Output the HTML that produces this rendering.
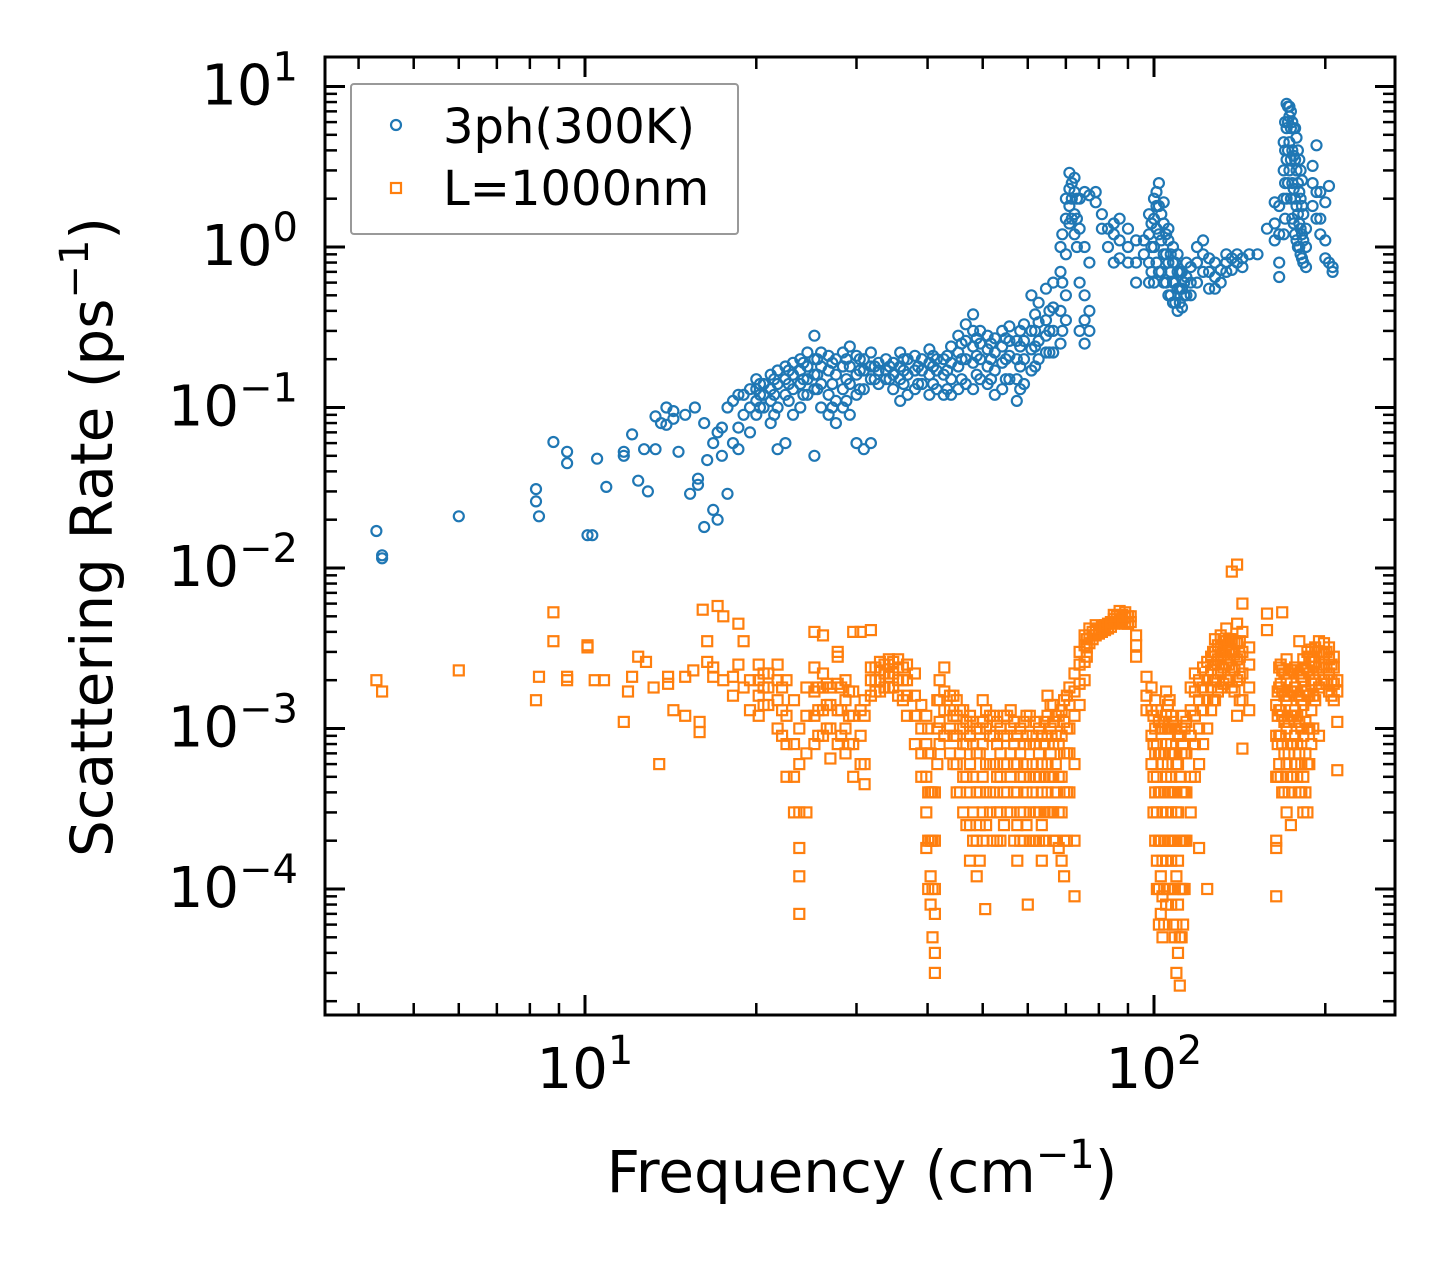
<!DOCTYPE html>
<html><head><meta charset="utf-8"><style>
html,body{margin:0;padding:0;background:#fff}
svg{display:block;font-family:"DejaVu Sans","Liberation Sans",sans-serif}
</style></head><body>
<svg id="chart" width="1455" height="1265" viewBox="0 0 1455 1265" xmlns="http://www.w3.org/2000/svg">
<rect x="0" y="0" width="1455" height="1265" fill="#fff"/>
<g id="marks"></g>
<g id="axes"></g>
<rect x="325" y="57" width="1070" height="958" fill="none" stroke="#000" stroke-width="3"/>
<g>
<rect x="351" y="84" width="387" height="150" rx="3" fill="#fff" fill-opacity="0.85" stroke="#999" stroke-width="2"/>
<circle cx="396" cy="125" r="5" fill="none" stroke="#1f77b4" stroke-width="2.2"/>
<text x="443" y="143" font-size="48">3ph(300K)</text>
<rect x="391" y="183" width="10" height="10" fill="none" stroke="#ff7f0e" stroke-width="2.2"/>
<text x="443" y="205" font-size="48">L=1000nm</text>
</g>
<text x="862" y="1192" font-size="58" text-anchor="middle">Frequency (cm<tspan font-size="40" dy="-24">−1</tspan><tspan dy="24">)</tspan></text>
<text transform="translate(112,537) rotate(-90)" font-size="58" text-anchor="middle">Scattering Rate (ps<tspan font-size="40" dy="-24">−1</tspan><tspan dy="24">)</tspan></text>
</svg>
<script>
const xTickExps=[1,2];
const yTickExps=[1,0,-1,-2,-3,-4];
const xMinorTicks=[4,5,6,7,8,9,20,30,40,50,60,70,80,90,200];
const blueFreq=[4.3,4.4,6,8.2,8.3,8.8,9.3,10.1,10.3,10.5,10.9,11.7,12.1,12.4,12.7,12.9,13.3,13.6,13.9,14.3,14.6,15,15.3,15.6,15.8,16.2,16.4,16.8,17.1,17.4,17.8,18.2,18.6,19,19.5,
20,20.6,21.2,21.8,22.5,23.2,23.9,24.6,25.3,26,26.8,27.6,28.4,29.2,30,30.9,31.8,32.8,33.8,34.8,35.8,36.9,38,39.1,40.3,41.5,42.7,44,45.3,46.7,48.1,49.5,51,52.5,54.1,55.7,57.4,59.1,60.9,62.7,64.6,66.5,68.5,70,71,72.5,74,75.5,77,79,81,83,85,87,90,93,96,98,100,102,104,106,108,110,112,114,116,119,122,125,128,131,134,137,140,143,147,152,158,163,166,169,171,173,175,177,179,181,183,185,190,193,196,200,203,206];
const blueRate=[[.017],[.012,.0115],[.021],[.031,.026],[.021],[.061],[.053,.045],[.016],[.016],[.048],[.032],[.053,.05],[.068],[.035],[.055],[.03],[.088,.055],[.08],[.1,.078],[.085,.095],[.053],[.09],[.029],[.1],[.036,.033],[.018,.08],[.047],[.023,.06],[.02,.07],[.075,.05],[.029,.1],[.11,.06],[.075,.12,.055],[.12,.09],[.13,.1,.07],
[.09,.11,.13,.15],[.1,.12,.14],[.08,.11,.13,.16],[.055,.1,.14,.17],[.06,.12,.15,.18],[.09,.13,.16,.19],[.1,.14,.17,.2],[.12,.15,.18,.22],[.05,.13,.16,.28,.2],[.1,.14,.18,.22],[.09,.12,.17,.21],[.08,.11,.16,.2],[.1,.13,.18,.22],[.09,.14,.18,.24],[.06,.12,.16,.21],[.055,.13,.17,.2],[.06,.15,.18,.22],[.14,.17,.19],[.15,.17,.2],[.13,.16,.19],[.11,.15,.18,.22],[.12,.16,.2],[.13,.17,.21],[.14,.17,.2],[.12,.16,.19,.23],[.13,.17,.2],[.12,.16,.2],[.12,.15,.19,.24],[.13,.18,.22,.28],[.14,.2,.26,.33],[.13,.19,.24,.38,.3],[.15,.2,.25,.3],[.14,.18,.23,.28],[.12,.17,.22,.27],[.13,.19,.24,.3],[.15,.21,.26,.32],[.11,.15,.2,.26],[.14,.2,.26,.33],[.17,.23,.3,.5],[.2,.26,.34,.45],[.22,.28,.35,.55],[.22,.3,.42,.6],[.25,.4,.7,1.0],[.35,.5,.9,1.5,2.0],[1.4,1.8,2.3,2.9],[1.2,1.6,2.2,2.7],[.3,.6,1.3,2.0],[.25,.35,.5,1.0,2.2],[.3,.4,.8,2.1],[1.9,2.2],[1.3,1.6],[1.0,1.3],[.8,1.2,1.4],[.85,1.1,1.5],[.8,1.0,1.3],[.6,.8,1.1],[.9,1.1],[.6,.8,1.2,1.6],[.6,1.0,1.5,2.0],[.7,1.2,1.8,2.5],[.6,.9,1.4,1.9],[.5,.8,1.1,1.3],[.45,.6,.8,1.0],[.4,.55,.7,.9],[.42,.55,.7],[.5,.65,.8],[.5,.6,.75],[.6,.8,1.0],[.7,.9,1.1],[.55,.7,.85],[.55,.65,.8],[.6,.72],[.7,.8,.9],[.72,.85],[.8,.9],[.75,.85],[.9],[.9],[1.3],[1.1,1.4,1.9],[.65,.8,1.2,1.8],[1.2,2.0,3.0,4.5],[2.0,3.5,5.5,7.8],[3.0,4.5,6.5,7.5],[1.5,2.5,4.0,6.0],[1.2,2.0,3.5,5.5],[1.0,1.6,2.5,4.0],[.9,1.3,2.0,3.0],[.8,1.1,1.6],[.75,1.0,1.3],[1.8,2.5,3.2],[1.5,2.2,4.3],[1.2,1.5,2.2],[.85,1.1,1.9],[.8,2.4],[.7,.75]];
const blueFreqExtra=[20.3,21.5,22.8,24.2,25.6,27.2,28.8,30.4,32.3,34.3,36.3,38.5,40.9,43.3,45.9,48.8,51.7,54.9,58.2,61.8,65.5,69,71.7,73.2,99,101,103,105,107,109,111,113,170,172,174,176,178,180,182];
const blueRateExtra=[[.1,.12,.14],[.09,.12,.15],[.11,.14,.17],[.12,.15,.19],[.13,.16,.2],[.1,.14,.19],[.11,.15,.2],[.13,.17,.2],[.15,.18],[.15,.18],[.14,.17,.2],[.14,.18],[.14,.18,.21],[.13,.17,.21],[.15,.2,.25],[.16,.21,.27],[.15,.2,.25],[.15,.2,.27],[.13,.18,.24,.3],[.18,.24,.3,.38],[.22,.3,.4],[.3,.6,1.2],[1.5,2.0,2.5],[1.0,1.5,2.0],[.7,1.0,1.4],[.8,1.3,1.8,2.2],[.7,1.1,1.6],[.6,.9,1.2],[.5,.7,.9],[.45,.6,.8],[.45,.55,.7],[.5,.6],[1.5,2.5,4,6],[2.5,4,6,7.5],[2,3.5,5.5,7],[1.4,2.3,3.7,5.5],[1.1,1.8,3,4.8],[1,1.4,2.2,3.5],[.85,1.2,1.8,2.6]];
const orangeFreq=[4.3,4.4,6,8.2,8.3,8.8,9.3,10.1,10.4,10.8,11.7,11.9,12.1,12.4,12.8,13.2,13.5,14,14.3,15,15.5,15.9,16.1,16.4,16.8,17.1,17.5,18.2,18.6,19,19.5,
20.2,21,21.8,22.6,23.3,23.8,24.5,25.3,26.2,27,27.8,28.7,29.6,30.5,31,31.8,33,34.2,35.5,36.8,38,39,39.8,40.5,41.2,42,42.8,43.8,45,46.2,47.5,48.8,50,50.5,51.5,53,54.5,56,57.5,59,60,60.5,62,63.5,65,66.5,68,69.5,71,72.5,74,75.5,77,79,81,83,85,87,89,91,93,97,99,100.5,102,103.5,105,106.5,108,109.5,111,112.5,114,116,118,120,122,124,126,128,131,134,137,140,143,147,158,164,166,168,171,174,177,180,183,186,189,192,195,199,203,207,210];
const orangeRate=[[.002],[.0017],[.0023],[.0015],[.0021],[.0035,.0053],[.002,.0021],[.0033,.0032],[.002],[.002],[.0011],[.0017],[.0021],[.0028],[.0026],[.0018],[.0006],[.0021,.0019],[.0013],[.0012,.0021],[.0023],[.00095,.0011],[.0055],[.0035,.0026],[.0024,.0021],[.0058],[.005,.002],[.0021,.0016],[.0045,.0025],[.0035,.0018],[.0013,.002],
[.0012,.0016,.002,.0025],[.0014,.0018,.0022],[.001,.0015,.002,.0025],[.0005,.0008,.0012,.002],[.0003,.0005,.0008,.0015],[.00007,.00012,.00018,.0003,.0006,.001],[.0003,.0007,.0012,.0018],[.0008,.0012,.0017,.0024,.004],[.0009,.0013,.0018,.0022,.0038],[.00065,.001,.0014,.0018],[.0008,.0013,.0019,.0028,.003],[.0007,.001,.0015,.002],[.0005,.0008,.0012,.0017,.004],[.0006,.0009,.0013,.004],[.00045,.0006,.0012,.0015],[.0016,.002,.0024,.0041],[.0017,.002,.0023,.0026],[.0018,.0021,.0025,.0027],[.0016,.002,.0024,.0027],[.0012,.0016,.002,.0025],[.0008,.0012,.0016,.0022],[.0005,.0007,.001,.0014],[.00018,.0003,.0005,.0008,.0012],[.00008,.00012,.0002,.0004,.0007],[.00003,.00004,.00007,.0001,.0002,.0004],[.0008,.0011,.0015,.002],[.0009,.0013,.0017,.0024],[.0007,.001,.0013,.0016],[.0004,.0006,.0009,.0012,.0015],[.0003,.0005,.0008,.001,.0013],[.00015,.00025,.0004,.0006,.0009,.0012],[.00012,.0002,.0004,.0007,.001],[.0002,.0003,.0005,.0008,.0011,.0015],[.000075],[.0003,.0004,.0006,.0009,.0012],[.0002,.0003,.0005,.0008,.0011],[.00025,.0004,.0006,.0009,.0012],[.0003,.0005,.0007,.001,.0013],[.00015,.00025,.0004,.0006,.0009],[.0002,.0003,.0005,.0008,.0011],[.00008],[.0002,.0003,.0005,.0008,.0012],[.0002,.0003,.0005,.0008,.0011],[.00015,.00025,.0004,.0006,.0009],[.0003,.0004,.0006,.0009,.0012,.0016],[.0002,.0003,.0005,.0008,.0011,.0014],[.00018,.0003,.0005,.0008,.0012],[.00012,.0002,.0004,.0007,.0011,.0015],[.0004,.0007,.001,.0014,.0018],[.00009,.0002,.0006,.0012,.0017,.0022],[.0014,.0019,.0025,.003],[.002,.0026,.0033,.0038],[.0034,.0038,.0042],[.0038,.0041,.0044],[.004,.0043],[.0042,.0045],[.0045,.0048,.0051],[.0046,.005,.0054],[.0045,.0049,.0053],[.0046,.005],[.0028,.0033,.0038],[.0013,.0016,.0021],[.0006,.0009,.0013,.0018],[.0002,.0004,.0007,.001,.0015],[.00006,.0001,.0002,.0004,.0007,.0011],[.00005,.00009,.00015,.0003,.0006,.001],[.00008,.00015,.0003,.0005,.0008,.0012,.0017],[.0001,.0002,.0004,.0007,.001,.0015],[.00006,.0001,.0002,.0004,.0007,.0011],[.00003,.00006,.00012,.0003,.0006,.001],[.000025,.00005,.0001,.0002,.0005,.0009],[.00006,.0001,.0002,.0004,.0008,.0012],[.0002,.0004,.0007,.0011],[.0003,.0005,.0009,.0013,.0018],[.0005,.0008,.0012,.0017,.0022],[.00018,.0006,.001,.0015,.002],[.0008,.0013,.0018,.0024],[.0001,.001,.0015,.002,.0026],[.0013,.0018,.0023,.0028],[.0015,.002,.0025,.003,.0036],[.0018,.0022,.0027,.0032,.0038],[.002,.0025,.003,.0035,.0042],[.0018,.0024,.003,.0036,.0095],[.0012,.002,.0027,.0034,.0045,.0105],[.00075,.0015,.0022,.003,.004,.006],[.0013,.0018,.0025,.0032],[.0041,.0052],[.0002,.00018,.00009,.0005,.0009,.0014],[.0006,.0009,.0013,.0018,.0024],[.0004,.0008,.0012,.0017,.0023,.0053],[.0003,.0006,.001,.0015,.002,.0027],[.00025,.0005,.0008,.0012,.0017,.0023],[.0006,.0009,.0013,.0018,.0024],[.0004,.0007,.0011,.0016,.0022,.0035],[.0003,.0005,.0009,.0014,.002,.0027],[.0003,.0006,.001,.0016,.0023,.003],[.0008,.0013,.0019,.0026,.0031],[.0015,.002,.0026,.0032],[.0009,.0018,.0024,.003,.0035],[.002,.0025,.0029,.0034],[.0017,.0022,.0027,.0032],[.0015,.0019,.0024,.0028],[.00055,.0011,.0017,.002]];
const orangeFreqExtra=[20.6,22.2,25.7,26.6,28.2,29.1,32.4,33.6,34.8,36.2,40.1,40.8,41.6,44.4,45.6,46.8,48.1,49.4,50.7,52.2,53.7,55.2,56.8,58.2,59.7,61.2,62.8,64.2,65.8,67.2,68.8,70.3,76.2,78,80,82,84,86,88,90,99.8,101.2,102.8,104.2,105.8,107.2,108.8,110.2,111.8,113.2,127,129.5,132.5,135.5,138.5,141.5,165,167,169.5,172.5,175.5,178.5,181.5,184.5,187.5,190.5,197,201,205];
const orangeRateExtra=[[.0014,.0018,.0022],[.0009,.0013,.0018],[.0009,.0013,.0018],[.001,.0014,.0019],[.0009,.0013,.0018],[.0008,.0012,.0017],[.0017,.002,.0024],[.0018,.0022,.0025],[.0018,.0022,.0026],[.0015,.002,.0024],[.0001,.0002,.0004,.0007,.001],[.00005,.0001,.0002,.0004],[.0006,.001,.0015],[.0006,.0009,.0012,.0016],[.0004,.0007,.001,.0013],[.00025,.0005,.0008,.0011],[.0002,.0003,.0005,.0008,.0011],[.00015,.00025,.0004,.0007,.001],[.00025,.0004,.0006,.001,.0013],[.0002,.0004,.0006,.0009,.0012],[.0002,.0003,.0005,.0007,.001],[.0003,.0004,.0006,.0009,.0012],[.0002,.0004,.0006,.0008,.0011],[.0002,.0003,.0005,.0007,.001],[.00025,.0004,.0006,.0009,.0012],[.0002,.0004,.0006,.0009],[.0002,.0003,.0005,.0007,.001],[.0002,.0003,.0005,.0008,.0011],[.0003,.0005,.0007,.001,.0014],[.0002,.0004,.0006,.0009,.0012],[.00015,.0003,.0005,.0009,.0013],[.0002,.0004,.0007,.001,.0016],[.0028,.0032,.0036],[.0036,.004],[.0039,.0042],[.0041,.0044],[.0043,.0046],[.0046,.005],[.0047,.0051],[.0045,.005],[.0003,.0005,.0008,.0012],[.0001,.00015,.0003,.0005,.0008,.0013],[.00007,.00012,.0002,.0004,.0007,.001],[.00006,.0001,.0002,.0004,.0007,.0011],[.0001,.0002,.0004,.0006,.001,.0014],[.00008,.00015,.0003,.0005,.0008,.0012],[.00005,.0001,.0002,.0004,.0007,.001],[.00004,.00008,.00015,.0003,.0006,.0009],[.00005,.0001,.0002,.0004,.0007,.001],[.0001,.0002,.0004,.0007,.001],[.0015,.002,.0025,.003],[.0017,.0022,.0027,.0033],[.0019,.0024,.0029,.0035],[.002,.0025,.003,.0036],[.0017,.0023,.0029,.0035],[.0015,.0021,.0028,.0035],[.0005,.0008,.0012,.0017],[.0005,.0009,.0013,.0019,.0025],[.0004,.0007,.0011,.0016,.0022],[.0004,.0007,.0011,.0016,.0022],[.0005,.0008,.0012,.0017,.0023],[.0005,.0008,.0012,.0017,.0023],[.0004,.0006,.001,.0015,.0021],[.0004,.0007,.0011,.0017,.0024],[.0006,.001,.0016,.0022,.0028],[.001,.0016,.0022,.0028],[.0019,.0024,.003],[.0019,.0024,.003],[.0016,.002,.0025]];

const NS='http://www.w3.org/2000/svg';
const X0=325,X1=1395,Y0=57,Y1=1015;
function fx(f){return 585+569*(Math.log10(f)-1);}
function fy(v){return 247-160.5*Math.log10(v);}
function mk(tag,attrs,parent){const e=document.createElementNS(NS,tag);for(const k in attrs)e.setAttribute(k,attrs[k]);parent.appendChild(e);return e;}
const marks=document.getElementById('marks');
const axes=document.getElementById('axes');
const gB=mk('g',{},marks);


function drawBlue(freqs,rates){freqs.forEach((f,i)=>{rates[i].forEach(v=>{
  const c=mk('circle',{cx:fx(f).toFixed(1),cy:fy(v).toFixed(1),r:5,fill:'none',stroke:'#1f77b4','stroke-width':2.2},gB);
  
  
});});}
drawBlue(blueFreq,blueRate);
drawBlue(blueFreqExtra,blueRateExtra);
const gO=mk('g',{},marks);


function drawOrange(freqs,rates){freqs.forEach((f,i)=>{rates[i].forEach(v=>{
  const s=mk('rect',{x:(fx(f)-5).toFixed(1),y:(fy(v)-5).toFixed(1),width:10,height:10,fill:'none',stroke:'#ff7f0e','stroke-width':2.2},gO);
  
  
});});}
drawOrange(orangeFreq,orangeRate);
drawOrange(orangeFreqExtra,orangeRateExtra);
function tick(x1,y1,x2,y2,w){const l=mk('line',{x1,y1,x2,y2,stroke:'#000','stroke-width':w},axes);
  
  }
xTickExps.forEach(e=>{const x=fx(Math.pow(10,e));
  tick(x,Y1,x,Y1-20,3);tick(x,Y0,x,Y0+20,3);
  const t=mk('text',{x:x,y:1088,'font-size':56,'text-anchor':'middle'},axes);
  
  
  t.innerHTML='10<tspan font-size="40" dy="-24">'+e+'</tspan>';
});
xMinorTicks.forEach(f=>{const x=fx(f);tick(x,Y1,x,Y1-12,2.5);tick(x,Y0,x,Y0+12,2.5);});
yTickExps.forEach(e=>{const y=fy(Math.pow(10,e));
  tick(X0,y,X0+20,y,3);tick(X1,y,X1-20,y,3);
  const t=mk('text',{x:298,y:y+18,'font-size':56,'text-anchor':'end'},axes);
  
  
  t.innerHTML='10<tspan font-size="40" dy="-24">'+(e<0?'−'+(-e):e)+'</tspan>';
});
for(let e=-5;e<=1;e++){for(let m=2;m<=9;m++){const y=fy(m*Math.pow(10,e));
  if(y>Y0+1&&y<Y1-1){tick(X0,y,X0+12,y,2.5);tick(X1,y,X1-12,y,2.5);}}}
</script>
</body></html>
